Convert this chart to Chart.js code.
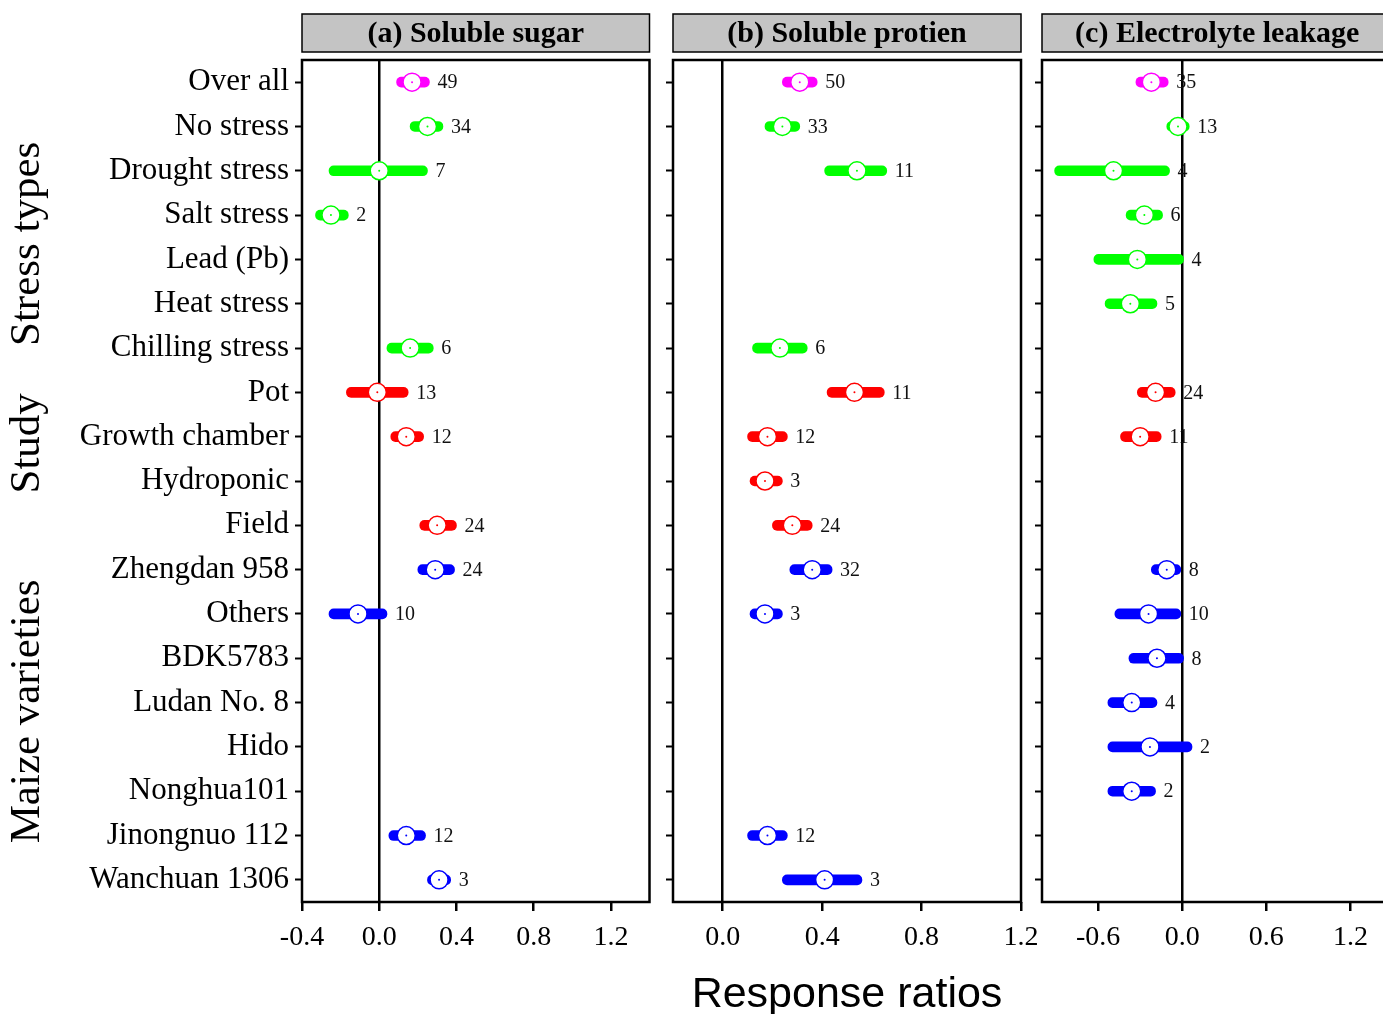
<!DOCTYPE html>
<html>
<head>
<meta charset="utf-8">
<script src="https://cdn.jsdelivr.net/npm/chart.js@4.4.1/dist/chart.umd.min.js"></script>
<style>
  html, body { margin: 0; padding: 0; background: #fff; overflow: hidden; width: 1383px; height: 1014px; position: relative; }
  canvas { position: absolute; top: 0; }
</style>
</head>
<body>
<canvas id="sugar" width="660" height="1014" style="left:0px"></canvas>
<canvas id="protein" width="448" height="1014" style="left:613px"></canvas>
<canvas id="leakage" width="421" height="1014" style="left:982px"></canvas>
<script>
// row labels, top to bottom
const categories = ["Over all", "No stress", "Drought stress", "Salt stress", "Lead (Pb)", "Heat stress",
  "Chilling stress", "Pot", "Growth chamber", "Hydroponic", "Field", "Zhengdan 958", "Others",
  "BDK5783", "Ludan No. 8", "Hido", "Nonghua101", "Jinongnuo 112", "Wanchuan 1306"];
const rowColors = ["#ff00ff", "#00ff00", "#00ff00", "#00ff00", "#00ff00", "#00ff00", "#00ff00",
  "#ff0000", "#ff0000", "#ff0000", "#ff0000",
  "#0000ff", "#0000ff", "#0000ff", "#0000ff", "#0000ff", "#0000ff", "#0000ff", "#0000ff"];
const groupLabels = ["Stress types", "Study", "Maize varieties"];
const groupCenters = [3.65, 8.15, 14.2];

// (a) soluble sugar
const sugarMean = [0.17, 0.25, 0.0, -0.25, null, null, 0.16, -0.01, 0.14, null, 0.30, 0.29, -0.11, null, null, null, null, 0.14, 0.31];
const sugarLow  = [0.09, 0.16, -0.26, -0.33, null, null, 0.04, -0.17, 0.06, null, 0.21, 0.20, -0.26, null, null, null, null, 0.05, 0.25];
const sugarHigh = [0.26, 0.33, 0.25, -0.16, null, null, 0.28, 0.15, 0.23, null, 0.40, 0.39, 0.04, null, null, null, null, 0.24, 0.37];
const sugarN    = [49, 34, 7, 2, null, null, 6, 13, 12, null, 24, 24, 10, null, null, null, null, 12, 3];

// (b) soluble protein
const proteinMean = [0.31, 0.24, 0.54, null, null, null, 0.23, 0.53, 0.18, 0.17, 0.28, 0.36, 0.17, null, null, null, null, 0.18, 0.41];
const proteinLow  = [0.24, 0.17, 0.41, null, null, null, 0.12, 0.42, 0.10, 0.11, 0.20, 0.27, 0.11, null, null, null, null, 0.10, 0.24];
const proteinHigh = [0.38, 0.31, 0.66, null, null, null, 0.34, 0.65, 0.26, 0.24, 0.36, 0.44, 0.24, null, null, null, null, 0.26, 0.56];
const proteinN    = [50, 33, 11, null, null, null, 6, 11, 12, 3, 24, 32, 3, null, null, null, null, 12, 3];

// (c) electrolyte leakage
const leakMean = [-0.22, -0.03, -0.49, -0.27, -0.32, -0.37, null, -0.19, -0.30, null, null, -0.11, -0.24, -0.18, -0.36, -0.23, -0.36, null, null];
const leakLow  = [-0.33, -0.11, -0.91, -0.40, -0.63, -0.55, null, -0.32, -0.44, null, null, -0.22, -0.48, -0.38, -0.53, -0.53, -0.53, null, null];
const leakHigh = [-0.10, 0.05, -0.09, -0.14, 0.01, -0.18, null, -0.05, -0.15, null, null, -0.01, -0.01, 0.01, -0.18, 0.07, -0.19, null, null];
const leakN    = [35, 13, 4, 6, 4, 5, null, 24, 11, null, null, 8, 10, 8, 4, 2, 2, null, null];

// x tick values
const sugarTicks = [-0.4, 0.0, 0.4, 0.8, 1.2];
const proteinTicks = [0.0, 0.4, 0.8, 1.2];
const leakTicks = [-0.6, 0.0, 0.6, 1.2];

const SERIF = '"Liberation Serif", "Times New Roman", serif';
const SANS = '"Liberation Sans", Arial, sans-serif';

// box round the plot and the grey strip on top
const framePlugin = {
  id: "frame",
  afterDraw(chart, args, opts) {
    const { ctx, chartArea: a } = chart;
    ctx.save();
    ctx.strokeStyle = "#000";
    ctx.lineWidth = 2.5;
    ctx.strokeRect(a.left, a.top, a.right - a.left, a.bottom - a.top);
    ctx.fillStyle = "#c4c4c4";
    ctx.fillRect(a.left, 14, a.right - a.left, 38);
    ctx.lineWidth = 1.5;
    ctx.strokeRect(a.left, 14, a.right - a.left, 38);
    ctx.fillStyle = "#000";
    ctx.font = "bold 30px " + SERIF;
    ctx.textAlign = "center";
    ctx.textBaseline = "middle";
    ctx.fillText(opts.title, (a.left + a.right) / 2, 34);
    ctx.restore();
  }
};

// sample sizes next to each bar
const countPlugin = {
  id: "counts",
  afterDatasetsDraw(chart, args, opts) {
    const { ctx } = chart;
    const x = chart.scales.x, y = chart.scales.y;
    ctx.save();
    ctx.fillStyle = "#111";
    ctx.font = "20px " + SERIF;
    ctx.textAlign = "left";
    ctx.textBaseline = "middle";
    opts.n.forEach((n, i) => {
      if (n == null) return;
      ctx.fillText(String(n), x.getPixelForValue(opts.high[i]) + 8, y.getPixelForValue(i) + 1);
    });
    ctx.restore();
  }
};

// rotated group names on the far left
const groupPlugin = {
  id: "groups",
  afterDraw(chart) {
    const { ctx } = chart;
    const y = chart.scales.y;
    ctx.save();
    ctx.fillStyle = "#000";
    ctx.font = "43px " + SERIF;
    ctx.textAlign = "center";
    ctx.textBaseline = "middle";
    groupLabels.forEach((g, i) => {
      const py = y.top + (groupCenters[i] + 0.5) * (y.bottom - y.top) / categories.length;
      ctx.save();
      ctx.translate(28, py);
      ctx.rotate(-Math.PI / 2);
      ctx.fillText(g, 0, 0);
      ctx.restore();
    });
    ctx.restore();
  }
};

function makePanel(id, cfg) {
  const bars = cfg.low.map((lo, i) => (lo == null ? null : [lo, cfg.high[i]]));
  const plugins = [framePlugin, countPlugin];
  if (cfg.groups) plugins.push(groupPlugin);
  return new Chart(document.getElementById(id), {
    type: "bar",
    data: {
      labels: categories,
      datasets: [
        {
          type: "line",
          indexAxis: "y",
          data: cfg.mean,
          showLine: false,
          pointRadius: 1,
          pointBorderWidth: 0,
          pointBackgroundColor: rowColors,
          order: 0
        },
        {
          type: "line",
          indexAxis: "y",
          data: cfg.mean,
          showLine: false,
          pointRadius: 9,
          pointBorderWidth: 1.5,
          pointBackgroundColor: "#fff",
          pointBorderColor: rowColors,
          order: 1
        },
        {
          type: "bar",
          indexAxis: "y",
          data: bars,
          backgroundColor: rowColors,
          barThickness: 10,
          borderRadius: 5,
          borderSkipped: false,
          order: 2
        }
      ]
    },
    options: {
      indexAxis: "y",
      responsive: false,
      animation: false,
      devicePixelRatio: 1,
      layout: { padding: { top: 60, right: cfg.padRight, left: 0, bottom: 0 } },
      plugins: {
        legend: { display: false },
        tooltip: { enabled: false },
        frame: { title: cfg.title },
        counts: { n: cfg.n, high: cfg.high }
      },
      scales: {
        x: {
          type: "linear",
          min: cfg.min,
          max: cfg.max,
          afterBuildTicks: s => { s.ticks = cfg.ticks.map(v => ({ value: v })); },
          afterFit: s => { s.height = 112; },
          border: { display: false },
          grid: {
            color: c => (c.tick && c.tick.value === 0 ? "#000" : "rgba(0,0,0,0)"),
            lineWidth: 2.5,
            tickColor: "#000",
            tickLength: 9,
            tickWidth: 2.5
          },
          ticks: {
            color: "#000",
            padding: 10,
            font: { family: SERIF, size: 28 },
            callback: v => Number(v).toFixed(1),
            maxRotation: 0
          },
          title: {
            display: !!cfg.xTitle,
            text: cfg.xTitle || "",
            color: "#000",
            font: { family: SANS, size: 43 },
            padding: { top: 0, bottom: -7 }
          }
        },
        y: {
          type: "category",
          offset: true,
          afterFit: s => { s.width = cfg.yWidth; },
          border: { display: false },
          grid: {
            color: "rgba(0,0,0,0)",
            tickColor: "#000",
            tickLength: 7,
            tickWidth: 2,
            offset: false
          },
          ticks: {
            color: cfg.groups ? "#000" : "rgba(0,0,0,0)",
            padding: 6,
            font: { family: SERIF, size: 31 },
            autoSkip: false
          }
        }
      }
    },
    plugins
  });
}

makePanel("sugar", {
  title: "(a) Soluble sugar", mean: sugarMean, low: sugarLow, high: sugarHigh, n: sugarN,
  ticks: sugarTicks, min: -0.4, max: 1.4, yWidth: 302, padRight: 10, groups: true
});
makePanel("protein", {
  title: "(b) Soluble protien", mean: proteinMean, low: proteinLow, high: proteinHigh, n: proteinN,
  ticks: proteinTicks, min: -0.2, max: 1.2, yWidth: 60, padRight: 40, xTitle: "Response ratios"
});
makePanel("leakage", {
  title: "(c) Electrolyte leakage", mean: leakMean, low: leakLow, high: leakHigh, n: leakN,
  ticks: leakTicks, min: -1.0, max: 1.5, yWidth: 60, padRight: 0
});
</script>
</body>
</html>
